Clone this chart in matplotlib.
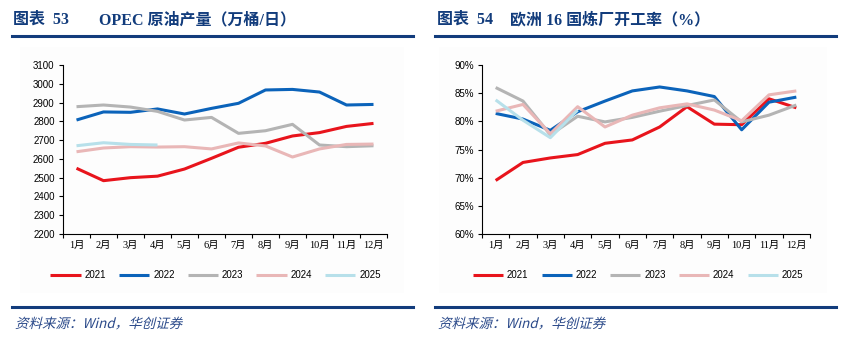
import matplotlib
matplotlib.use("Agg")
import matplotlib.pyplot as plt
from matplotlib.lines import Line2D
from matplotlib.patches import PathPatch, Rectangle
from matplotlib.textpath import TextPath
from matplotlib.font_manager import FontProperties
from matplotlib.transforms import Affine2D
from matplotlib.ticker import FixedLocator, NullFormatter

months = ["1月", "2月", "3月", "4月", "5月", "6月", "7月", "8月", "9月", "10月", "11月", "12月"]
years = ["2021", "2022", "2023", "2024", "2025"]
colors = ["#e8141c", "#0b63ba", "#b4b4b4", "#e9b7b7", "#b7e0ea"]

# OPEC crude output (10k barrels/day)
opec_2021 = [2550, 2484, 2500, 2508, 2546, 2603, 2662, 2683, 2722, 2740, 2773, 2789]
opec_2022 = [2807, 2850, 2848, 2866, 2839, 2869, 2896, 2967, 2970, 2956, 2887, 2890]
opec_2023 = [2878, 2887, 2876, 2853, 2807, 2821, 2736, 2750, 2784, 2674, 2665, 2670]
opec_2024 = [2638, 2658, 2665, 2663, 2665, 2653, 2685, 2669, 2610, 2653, 2677, 2679]
opec_2025 = [2670, 2686, 2677, 2674]
opec_ticks = list(range(2200, 3101, 100))

# Refinery utilisation, 16 European countries (%)
eu_2021 = [69.5, 72.7, 73.5, 74.1, 76.1, 76.7, 79.0, 82.6, 79.5, 79.4, 84.0, 82.4]
eu_2022 = [81.4, 80.4, 78.4, 81.7, 83.6, 85.4, 86.1, 85.4, 84.4, 78.5, 83.4, 84.3]
eu_2023 = [86.0, 83.6, 77.6, 80.9, 79.9, 80.7, 81.8, 82.8, 83.8, 79.9, 81.1, 82.9]
eu_2024 = [81.8, 83.0, 77.8, 82.6, 79.0, 81.1, 82.4, 83.1, 82.0, 80.1, 84.7, 85.4]
eu_2025 = [83.8, 80.2, 77.1, 82.0]
eu_ticks = list(range(60, 91, 5))

W, H = 849, 339
DPI = 100
fig = plt.figure(figsize=(W / DPI, H / DPI), dpi=DPI)
fig.patch.set_facecolor("white")

NAVY = "#123c7c"
CJK = "Noto Sans CJK SC"
num_font = ["Liberation Sans", CJK]
lab_font = ["Liberation Serif", CJK]
title_font = ["Liberation Serif", CJK]


def fx(px):
    return px / W


def fy(py):
    return 1 - py / H


def header(x0, x1, x_title, x_rest, num, rest):
    fig.add_artist(Line2D([fx(x0), fx(x1)], [fy(36), fy(36)], color=NAVY, lw=2.2))
    fig.text(fx(x_title), fy(20), "图表  " + num, family=title_font, fontsize=11.5,
             fontweight="bold", color=NAVY, va="center", ha="left")
    fig.text(fx(x_rest), fy(20), rest, family=title_font, fontsize=11.5,
             fontweight="bold", color=NAVY, va="center", ha="left")
    fig.add_artist(Line2D([fx(x0), fx(x1)], [fy(307), fy(307)], color=NAVY, lw=2.2))
    # italic source note drawn as a sheared text path
    fp = FontProperties(family=CJK)
    tp = TextPath((0, 0), "资料来源：Wind，华创证券", size=13.5, prop=fp)
    tr = Affine2D().skew_deg(14, 0).translate(x0 + 3, H - 328) \
        + fig.dpi_scale_trans.frozen().scale(1.0 / DPI)
    fig.add_artist(PathPatch(tp, transform=tr, color="#2b4a8a", lw=0))


def panel(rect_px, series, ticks, fmt, legend_center):
    left, top, right, bottom = rect_px
    # faint background band behind the chart
    fig.add_artist(Rectangle((fx(left - 43), fy(293)), fx(right - left + 60), fy(47) - fy(293),
                             transform=fig.transFigure, facecolor="#fdfdfd", edgecolor="none", zorder=0))
    ax = fig.add_axes([fx(left), fy(bottom), fx(right - left), fy(top) - fy(bottom)])
    ax.set_facecolor("none")
    x = list(range(len(months)))
    handles = []
    for vals, c, yr in zip(series, colors, years):
        ln, = ax.plot(x[:len(vals)], vals, color=c, lw=2.2, solid_capstyle="butt", label=yr)
        handles.append(ln)
    ax.set_xlim(-0.5, len(months) - 0.5)
    ax.set_ylim(ticks[0], ticks[-1])
    ax.set_yticks(ticks)
    ax.set_yticklabels([fmt(t) for t in ticks], family=num_font, fontsize=7)
    ax.xaxis.set_major_locator(FixedLocator([i - 0.5 for i in range(len(months) + 1)]))
    ax.xaxis.set_major_formatter(NullFormatter())
    ax.xaxis.set_minor_locator(FixedLocator(x))
    ax.set_xticklabels(months, minor=True, family=lab_font, fontsize=7.5)
    ax.tick_params(axis="x", which="major", direction="out", length=3, width=0.8)
    ax.tick_params(axis="x", which="minor", length=0, pad=5)
    ax.tick_params(axis="y", direction="out", length=3, width=0.8, pad=3)
    for s in ("top", "right"):
        ax.spines[s].set_visible(False)
    for s in ("left", "bottom"):
        ax.spines[s].set_linewidth(0.8)
    fig.legend(handles=handles, loc="center", bbox_to_anchor=(fx(legend_center), fy(275)),
               ncol=5, frameon=False, prop=FontProperties(family=num_font, size=7),
               handlelength=3.1, handletextpad=0.4, columnspacing=1.35)
    return ax


header(12, 413, 13, 99, "53", "OPEC 原油产量（万桶/日）")
header(435, 836, 437, 510, "54", "欧洲 16 国炼厂开工率（%）")

panel((63, 65, 387, 234), [opec_2021, opec_2022, opec_2023, opec_2024, opec_2025],
      opec_ticks, lambda t: f"{t}", 215.5)
panel((482, 65, 810, 234), [eu_2021, eu_2022, eu_2023, eu_2024, eu_2025],
      eu_ticks, lambda t: f"{t}%", 638)

fig.savefig("out.png", dpi=DPI, facecolor="white")
